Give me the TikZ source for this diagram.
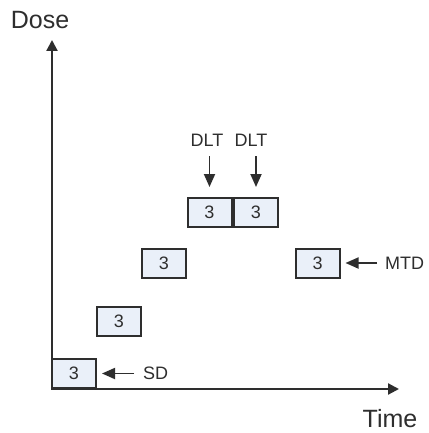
\documentclass[tikz,border=0pt]{standalone}
\usepackage{fontspec}
\setmainfont{Liberation Sans}
\usetikzlibrary{arrows.meta}
\definecolor{boxfill}{HTML}{EAF0F9}
\definecolor{ink}{HTML}{2E2E2E}
\begin{document}
\begin{tikzpicture}[x=1pt,y=-1pt,
  cell/.style={draw=ink, line width=2pt, fill=boxfill, minimum width=44pt, minimum height=29pt, inner sep=0pt, font=\fontsize{18}{18}\selectfont, text=ink},
  lbl/.style={font=\fontsize{18}{18}\selectfont, text=ink, inner sep=0pt},
  axlbl/.style={font=\fontsize{25}{25}\selectfont, text=ink, inner sep=0pt},
  ptr/.style={draw=ink, line width=1.8pt, -{Triangle[length=13pt,width=11pt]}},
  axis/.style={draw=ink, line width=2.2pt, arrows={Triangle[length=11pt,width=11pt]-Triangle[length=11pt,width=11pt]}}]
\useasboundingbox[fill=white] (0,0) rectangle (428,433);
\coordinate (O) at (52,389);
\coordinate (ytip) at (52,40);
\coordinate (xtip) at (399,389);
\draw[axis] (ytip) -- (O) -- (xtip);
\node[axlbl] (dose) at (40,20) {Dose};
\node[axlbl] (time) at (390,419) {Time};
\node[cell] (b1) at (74,373.5) {3};
\node[cell] (b2) at (119,321) {3};
\node[cell] (b3) at (164,263) {3};
\node[cell] (b4) at (209.5,212.5) {3};
\node[cell] (b5) at (256,212.5) {3};
\node[cell] (b6) at (317.5,263) {3};
\node[lbl, anchor=west] (sd) at (143,373.5) {SD};
\node[lbl, anchor=west] (mtd) at (385,263) {MTD};
\node[lbl] (d1) at (207,140) {DLT};
\node[lbl] (d2) at (251,140) {DLT};
\draw[ptr, shorten <=9pt, shorten >=5pt] (sd.west) -- (b1.east);
\draw[ptr, shorten <=8pt, shorten >=5pt] (mtd.west) -- (b6.east);
\draw[ptr, shorten <=10pt, shorten >=10pt] (d1.south -| b4.north) -- (b4.north);
\draw[ptr, shorten <=10pt, shorten >=10pt] (d2.south -| b5.north) -- (b5.north);
\end{tikzpicture}
\end{document}
